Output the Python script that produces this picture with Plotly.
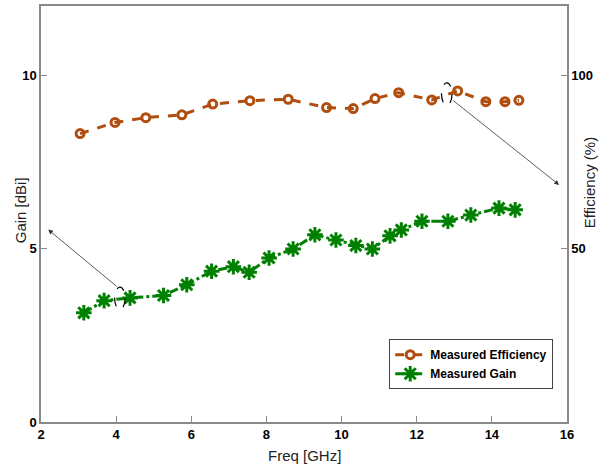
import plotly.graph_objects as go

# Data
eff_freq = [3.04, 3.97, 4.79, 5.75, 6.57, 7.56, 8.58, 9.60, 10.31, 10.89, 11.52, 12.40, 13.09, 13.84, 14.35, 14.72]
eff_vals = [83.2, 86.4, 87.8, 88.6, 91.7, 92.7, 93.1, 90.7, 90.4, 93.3, 95.0, 92.9, 95.5, 92.4, 92.4, 92.8]

gain_freq = [3.14, 3.68, 4.37, 5.26, 5.88, 6.54, 7.12, 7.54, 8.07, 8.71, 9.29, 9.85, 10.38, 10.82,
             11.29, 11.59, 12.14, 12.83, 13.44, 14.19, 14.62]
gain_vals = [3.15, 3.50, 3.58, 3.65, 3.96, 4.35, 4.48, 4.32, 4.73, 4.99, 5.40, 5.25, 5.09, 4.99,
             5.37, 5.54, 5.79, 5.79, 5.97, 6.17, 6.12]

x_ticks = [2, 4, 6, 8, 10, 12, 14, 16]
gain_ticks = [0, 5, 10]
eff_ticks = [50, 100]

EFF_COLOR = "#B04E0F"
GAIN_COLOR = "#008000"
FONT = "Liberation Sans, Arial, sans-serif"
AXIS_COLOR = "#8a8a8a"

fig = go.Figure()
fig.add_trace(go.Scatter(
    x=eff_freq, y=eff_vals, yaxis="y2", name="Measured Efficiency",
    mode="lines+markers",
    line=dict(color=EFF_COLOR, width=3, dash="dash"),
    marker=dict(symbol="circle-open", size=8, color=EFF_COLOR, line=dict(width=3, color=EFF_COLOR)),
))
fig.add_trace(go.Scatter(
    x=gain_freq, y=gain_vals, name="Measured Gain",
    mode="lines+markers",
    line=dict(color=GAIN_COLOR, width=3, dash="dashdot"),
    marker=dict(symbol="asterisk-open", size=13, color=GAIN_COLOR, line=dict(width=3, color=GAIN_COLOR)),
))

# dashed ellipses marking the highlighted points
fig.add_shape(type="circle", xref="x", yref="y", x0=3.96, x1=4.24, y0=3.25, y1=3.89,
              line=dict(color="black", width=1.2, dash="dash"))
fig.add_shape(type="circle", xref="x", yref="y2", x0=12.66, x1=12.94, y0=91.4, y1=97.8,
              line=dict(color="black", width=1.2, dash="dash"))

# arrows to the corresponding axes
fig.add_annotation(x=2.19, y=5.55, xref="x", yref="y", ax=4.05, ay=3.88, axref="x", ayref="y",
                   text="", showarrow=True, arrowhead=2, arrowsize=1.2, arrowwidth=0.8, arrowcolor="#333333")
fig.add_annotation(x=15.79, y=68.4, xref="x", yref="y2", ax=12.93, ay=93.1, axref="x", ayref="y2",
                   text="", showarrow=True, arrowhead=2, arrowsize=1.2, arrowwidth=0.8, arrowcolor="#333333")

tickfont = dict(family=FONT, size=13, color="black", weight="bold")
titlefont = dict(family=FONT, size=15, color="#222222")
ytitlefont = dict(family=FONT, size=15, color="#222222")

# axis titles placed as text next to the axes (as in the reference)
fig.add_annotation(text="Freq [GHz]", xref="paper", yref="paper", x=0.5, y=0, yshift=-33,
                   showarrow=False, font=titlefont, xanchor="center", yanchor="middle")
fig.add_annotation(text="Gain [dBi]", xref="paper", yref="paper", x=0, y=0.509, xshift=-21,
                   textangle=-90, showarrow=False, font=ytitlefont, xanchor="center", yanchor="middle")
fig.add_annotation(text="Efficiency (%)", xref="paper", yref="paper", x=1, y=0.574, xshift=22,
                   textangle=-90, showarrow=False, font=ytitlefont, xanchor="center", yanchor="middle")

fig.update_layout(
    width=599, height=464,
    margin=dict(l=41, r=32, t=6, b=42),
    paper_bgcolor="white", plot_bgcolor="white",
    showlegend=True,
    legend=dict(x=0.662, y=0.199, xanchor="left", yanchor="top",
                bgcolor="white", bordercolor="#444444", borderwidth=1,
                font=dict(family=FONT, size=12, color="black", weight="bold"),
                tracegroupgap=0),
    xaxis=dict(range=[2, 16], tickvals=x_ticks, ticks="inside", ticklen=6, tickcolor=AXIS_COLOR,
               showline=True, linecolor=AXIS_COLOR, linewidth=1.5, mirror=True, automargin=False,
               showgrid=False, zeroline=False, tickfont=tickfont),
    yaxis=dict(range=[0, 12], tickvals=gain_ticks, ticks="inside", ticklen=6, tickcolor=AXIS_COLOR,
               showline=True, linecolor=AXIS_COLOR, linewidth=1.5, automargin=False,
               showgrid=False, zeroline=False, tickfont=tickfont),
    yaxis2=dict(range=[0, 120], tickvals=eff_ticks, ticks="inside", ticklen=6, tickcolor=AXIS_COLOR,
                overlaying="y", side="right", automargin=False,
                showline=True, linecolor=AXIS_COLOR, linewidth=1.5,
                showgrid=False, zeroline=False, tickfont=tickfont),
)

fig.write_html("out.html", config={"displayModeBar": False},
               post_script="document.body.style.margin='0';document.body.style.overflow='hidden';")
